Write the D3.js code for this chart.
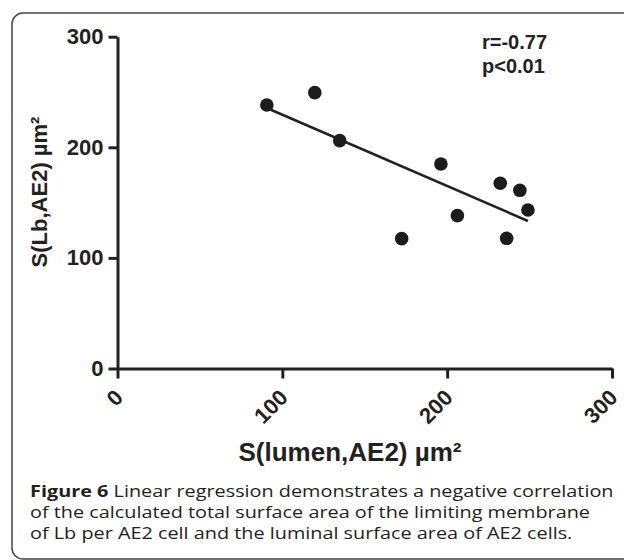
<!DOCTYPE html>
<html>
<head>
<meta charset="utf-8">
<script src="https://cdn.jsdelivr.net/npm/d3@7"></script>
<style>
  body { margin: 0; background: #fff; }
  svg { display: block; }
</style>
</head>
<body>
<script>
// values
const lumenArea = [90.6, 119.7, 134.8, 172.4, 196.2, 206.2, 232.2, 244.1, 249.0, 236.1];
const lbArea = [238.2, 249.4, 206.0, 117.4, 184.9, 138.2, 167.5, 161.1, 143.3, 117.7];
// regression line end points
const fitX = [90.6, 249.0];
const fitY = [235.5, 133.4];
const xTicks = [0, 100, 200, 300];
const yTicks = [0, 100, 200, 300];
const statLines = ["r=-0.77", "p<0.01"];
const xTitle = "S(lumen,AE2) µm²";
const yTitle = "S(Lb,AE2) µm²";
const captionBold = "Figure 6";
const captionLines = [
  " Linear regression demonstrates a negative correlation",
  "of the calculated total surface area of the limiting membrane",
  "of Lb per AE2 cell and the luminal surface area of AE2 cells."
];

const W = 624, H = 560;
const ink = "#222";

const svg = d3.select("body").append("svg")
    .attr("width", W)
    .attr("height", H);

// figure frame
svg.append("rect")
    .attr("x", 12)
    .attr("y", 13)
    .attr("width", 640)
    .attr("height", 546)
    .attr("rx", 11)
    .attr("fill", "none")
    .attr("stroke", "#444")
    .attr("stroke-width", 1.5);

const x = d3.scaleLinear().domain([0, 300]).range([117.5, 612]);
const y = d3.scaleLinear().domain([0, 300]).range([368.5, 36.7]);

const font = "'Liberation Sans', Arial, sans-serif";

// y axis
const yAxis = svg.append("g")
    .attr("transform", `translate(${x(0)},0)`)
    .call(d3.axisLeft(y).tickValues(yTicks).tickSize(9).tickSizeOuter(0).tickPadding(5));

// x axis
const xAxis = svg.append("g")
    .attr("transform", `translate(0,${y(0)})`)
    .call(d3.axisBottom(x).tickValues(xTicks).tickSize(10).tickSizeOuter(0));

[yAxis, xAxis].forEach(g => {
  g.selectAll("path, line").attr("stroke", ink).attr("stroke-width", 3);
  g.selectAll("text")
      .attr("fill", ink)
      .style("font-family", font)
      .style("font-weight", "bold")
      .style("font-size", "22px");
});

xAxis.selectAll(".tick text")
    .attr("text-anchor", "end")
    .attr("dy", "0.35em")
    .attr("y", 0)
    .attr("transform", "translate(1,25) rotate(-45)");

// axis titles
svg.append("text")
    .attr("transform", "translate(47,192) rotate(-90)")
    .attr("text-anchor", "middle")
    .attr("fill", ink)
    .style("font-family", font)
    .style("font-weight", "bold")
    .style("font-size", "22px")
    .text(yTitle);

svg.append("text")
    .attr("x", 350)
    .attr("y", 461)
    .attr("text-anchor", "middle")
    .attr("fill", ink)
    .style("font-family", font)
    .style("font-weight", "bold")
    .style("font-size", "26px")
    .text(xTitle);

// r and p annotation
svg.selectAll(".stat")
    .data(statLines)
    .enter()
    .append("text")
    .attr("class", "stat")
    .attr("x", 482)
    .attr("y", (d, i) => 49 + i * 24)
    .attr("fill", ink)
    .style("font-family", font)
    .style("font-weight", "bold")
    .style("font-size", "20px")
    .text(d => d);

// regression line
const line = d3.line()
    .x(d => x(d[0]))
    .y(d => y(d[1]));

svg.append("path")
    .datum(d3.zip(fitX, fitY))
    .attr("d", line)
    .attr("fill", "none")
    .attr("stroke", ink)
    .attr("stroke-width", 2.6);

// points
svg.selectAll(".dot")
    .data(d3.zip(lumenArea, lbArea))
    .enter()
    .append("circle")
    .attr("class", "dot")
    .attr("cx", d => x(d[0]))
    .attr("cy", d => y(d[1]))
    .attr("r", 6.8)
    .attr("fill", "#1c1c1c");

// caption
const cap = svg.append("g")
    .style("font-family", "'Open Sans', 'Noto Sans', sans-serif")
    .style("font-size", "16.5px")
    .attr("fill", "#231f20");

const capTexts = captionLines.map((t, i) => {
  const txt = cap.append("text")
      .attr("x", 0)
      .attr("y", 497 + i * 21);
  if (i === 0) {
    txt.append("tspan").style("font-weight", "bold").text(captionBold);
  }
  txt.append("tspan").text(t);
  return txt;
});

// widen a little so the first line runs from x = 30 to about x = 614
const firstLen = capTexts[0].node().getComputedTextLength();
cap.attr("transform", `translate(30,0) scale(${(584 / firstLen).toFixed(4)},1)`);
</script>
</body>
</html>
